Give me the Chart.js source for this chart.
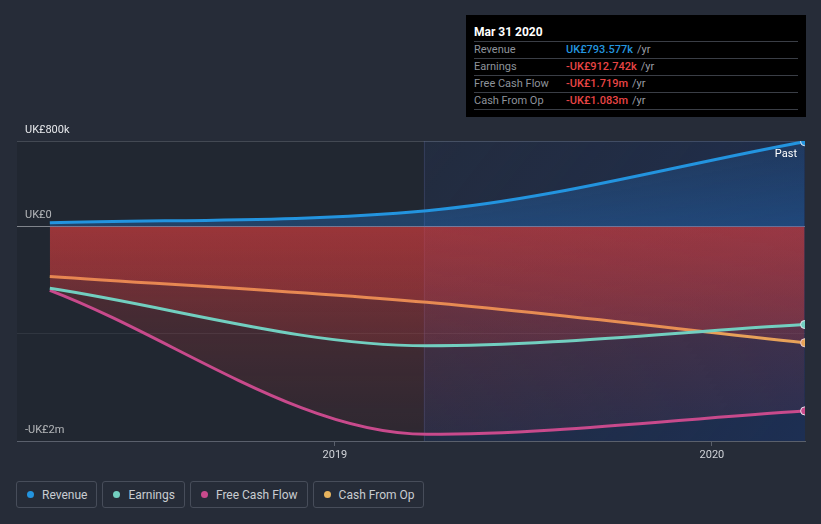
<!DOCTYPE html>
<html>
<head>
<meta charset="utf-8">
<script src="https://cdn.jsdelivr.net/npm/chart.js@4.4.0/dist/chart.umd.min.js"></script>
<style>
  body { margin: 0; background: #262c38; font-family: Roboto, "Open Sans", sans-serif; }
  #wrap { position: relative; width: 821px; height: 524px; overflow: hidden; }
  #chart { position: absolute; left: 0; top: 0; }
  #tip { position: absolute; left: 466px; top: 15px; width: 340px; height: 102px; background: #000; box-sizing: border-box; padding: 10px 8px 0 8px; }
  #tip .title { color: #fff; font-weight: bold; font-size: 12px; height: 16px; line-height: 14px; border-bottom: 1px solid #3a3e46; }
  #tip .row { font-size: 11px; height: 16px; line-height: 16px; border-bottom: 1px solid #3a3e46; color: #8e939b; display: flex; }
  #tip .row .lab { width: 92px; }
  #tip .row .val { font-weight: 500; }
  #tip .row .yr { color: #9a9ea6; margin-left: 4px; }
  #legend { position: absolute; left: 16px; top: 481px; display: flex; }
  .item { height: 27px; box-sizing: border-box; border: 1px solid #474d5a; border-radius: 3px; display: flex; align-items: center; padding: 0 9px 0 10px; margin-right: 5px; color: #c9ccd1; font-size: 12px; }
  .dot { width: 7px; height: 7px; border-radius: 50%; margin-right: 8px; }
</style>
</head>
<body>
<div id="wrap">
  <canvas id="chart" width="821" height="470"></canvas>
  <div id="tip"></div>
  <div id="legend"></div>
</div>
<script>
// Data (values in UK£)
const dates = ['2018-03-31', '2019-03-31', '2020-03-31'];
const revenue = [37000, 149000, 793577];
const earnings = [-575000, -1111000, -912742];
const freeCashFlow = [-594000, -1938000, -1719000];
const cashFromOp = [-464000, -706000, -1083000];

const seriesNames = ['Revenue', 'Earnings', 'Free Cash Flow', 'Cash From Op'];
const lineColors = ['#2394df', '#72cfc0', '#c84a8c', '#e8b45e'];
const tipValues = ['UK£793.577k', '-UK£912.742k', '-UK£1.719m', '-UK£1.083m'];
const tipColors = ['#2394df', '#e84545', '#e84545', '#e84545'];
const yTickLabels = { '800000': 'UK£800k', '0': 'UK£0', '-2000000': '-UK£2m' };
const xTickYears = [2019, 2020];
const pastStart = '2019-03-28';

// convert a date string to a decimal year for the linear x scale
function toYear(s) {
    const d = new Date(s + 'T00:00:00Z');
    const y = d.getUTCFullYear();
    const start = Date.UTC(y, 0, 1);
    const end = Date.UTC(y + 1, 0, 1);
    return y + (d.getTime() - start) / (end - start);
}

const xs = dates.map(toYear);
function points(vals) {
    return vals.map((v, i) => ({ x: xs[i], y: v }));
}

// gradient fill between line and zero
function fillFor(positive) {
    return function (ctx) {
        const chart = ctx.chart;
        const area = chart.chartArea;
        if (!area) return 'transparent';
        const zero = chart.scales.y.getPixelForValue(0);
        let g;
        if (positive) {
            g = chart.ctx.createLinearGradient(0, zero, 0, area.top);
            g.addColorStop(0, 'rgba(35,120,210,0.35)');
            g.addColorStop(1, 'rgba(35,120,210,0.15)');
        } else {
            g = chart.ctx.createLinearGradient(0, zero, 0, area.bottom);
            g.addColorStop(0, 'rgba(230,62,62,0.27)');
            g.addColorStop(1, 'rgba(230,62,62,0.06)');
        }
        return g;
    };
}

const allSeries = [revenue, earnings, freeCashFlow, cashFromOp];
const datasets = allSeries.map((vals, i) => ({
    label: seriesNames[i],
    data: points(vals),
    borderColor: lineColors[i],
    borderWidth: 3,
    fill: 'origin',
    backgroundColor: fillFor(i === 0),
    cubicInterpolationMode: 'monotone',
    pointRadius: vals.map((v, j) => j === vals.length - 1 ? 4 : 0),
    pointBackgroundColor: lineColors[i],
    pointBorderColor: '#e6e6ee',
    pointBorderWidth: 1
}));

// background shading of the plot area and "Past" label
const shading = {
    id: 'shading',
    beforeDatasetsDraw(chart) {
        const { ctx, chartArea: a, scales } = chart;
        const px = scales.x.getPixelForValue(toYear(pastStart));
        ctx.save();
        ctx.fillStyle = 'rgba(20,22,28,0.25)';
        ctx.fillRect(a.left, a.top, px - a.left, a.bottom - a.top);
        const g = ctx.createLinearGradient(px, a.top, a.right, a.bottom);
        g.addColorStop(0, 'rgba(25,45,90,0.22)');
        g.addColorStop(1, 'rgba(20,50,110,0.5)');
        ctx.fillStyle = g;
        ctx.fillRect(px, a.top, a.right - px, a.bottom - a.top);
        ctx.strokeStyle = 'rgba(90,100,150,0.3)';
        ctx.lineWidth = 1;
        ctx.beginPath();
        ctx.moveTo(Math.round(px) + 0.5, a.top);
        ctx.lineTo(Math.round(px) + 0.5, a.bottom);
        ctx.stroke();
        ctx.restore();
    },
    afterDatasetsDraw(chart) {
        const { ctx, chartArea: a } = chart;
        ctx.save();
        ctx.fillStyle = '#ffffff';
        ctx.font = '11px Roboto';
        ctx.textAlign = 'right';
        ctx.textBaseline = 'middle';
        ctx.fillText('Past', a.right - 8, a.top + 13);
        ctx.restore();
    }
};

new Chart(document.getElementById('chart').getContext('2d'), {
    type: 'line',
    data: { datasets: datasets },
    options: {
        responsive: false,
        animation: false,
        layout: { padding: { left: 17, right: 16, top: 141, bottom: 0 } },
        plugins: { legend: { display: false }, tooltip: { enabled: false } },
        scales: {
            x: {
                type: 'linear',
                min: 2020.247 - 788 / 377,
                max: 2020.247,
                afterBuildTicks: (s) => { s.ticks = xTickYears.map(v => ({ value: v })); },
                afterFit: (s) => { s.height = 29; },
                border: { display: true, color: '#5a606c', width: 1 },
                grid: { drawOnChartArea: false, drawTicks: true, tickLength: 5, color: '#5a606c' },
                ticks: { color: '#d0d3d8', font: { family: 'Roboto', size: 11 }, padding: 3, maxRotation: 0,
                    callback: (v) => String(v) }
            },
            y: {
                min: -2000000,
                max: 800000,
                afterBuildTicks: (s) => {
                    s.ticks = [800000, 0, -1000000, -2000000].map(v => ({ value: v }));
                },
                afterFit: (s) => { s.width = 0; },
                border: { display: false },
                grid: {
                    drawTicks: false,
                    color: (c) => {
                        const v = c.tick.value;
                        if (v === 0) return '#a4a8b0';
                        if (v === -1000000) return 'rgba(120,126,140,0.25)';
                        return '#535a66';
                    }
                },
                ticks: {
                    mirror: true,
                    padding: 8,
                    labelOffset: -11,
                    color: '#e6e8eb',
                    font: { family: 'Roboto', size: 11 },
                    callback: (v) => yTickLabels[String(v)] || ''
                }
            }
        }
    },
    plugins: [shading]
});

// tooltip box (fixed, as in the reference)
const tip = document.getElementById('tip');
let html = '<div class="title">Mar 31 2020</div>';
seriesNames.forEach((n, i) => {
    html += '<div class="row"><span class="lab">' + n + '</span><span class="val" style="color:' + tipColors[i] + '">' +
        tipValues[i] + '</span><span class="yr">/yr</span></div>';
});
tip.innerHTML = html;

// legend
const legend = document.getElementById('legend');
seriesNames.forEach((n, i) => {
    const d = document.createElement('div');
    d.className = 'item';
    d.innerHTML = '<span class="dot" style="background:' + lineColors[i] + '"></span>' + n;
    legend.appendChild(d);
});
</script>
</body>
</html>
